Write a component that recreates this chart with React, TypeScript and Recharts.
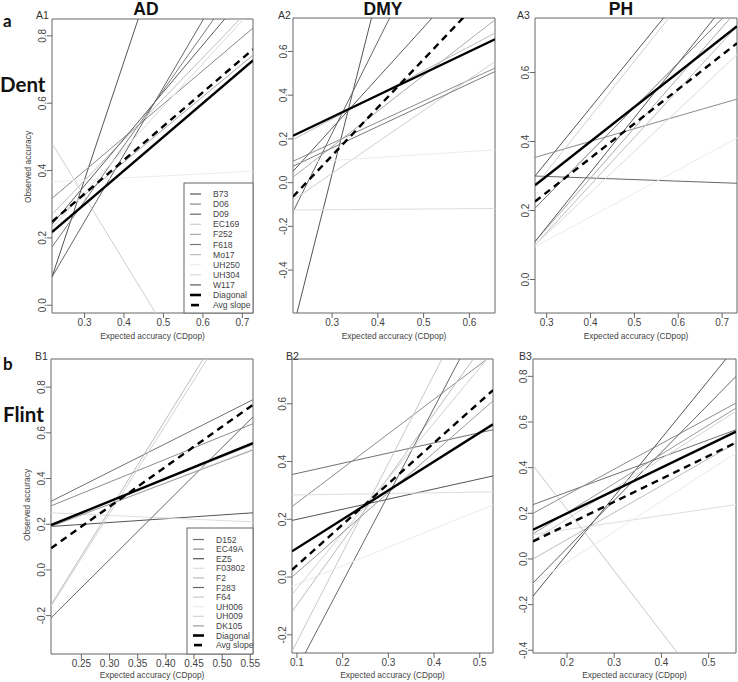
import React from 'react';
import { LineChart, Line, XAxis, YAxis, ReferenceArea } from 'recharts';

// ---------- names & colours ----------
const DENT_NAMES = ['B73', 'D06', 'D09', 'EC169', 'F252', 'F618', 'Mo17', 'UH250', 'UH304', 'W117'];
const DENT_COLORS = ['#555555', '#8a8a8a', '#666666', '#cfcfcf', '#ababab', '#7a7a7a', '#bdbdbd', '#ececec', '#dcdcdc', '#5a5a5a'];
const FLINT_NAMES = ['D152', 'EC49A', 'EZ5', 'F03802', 'F2', 'F283', 'F64', 'UH006', 'UH009', 'DK105'];
const FLINT_COLORS = ['#707070', '#8c8c8c', '#555555', '#dddddd', '#bcbcbc', '#666666', '#c8c8c8', '#eaeaea', '#d2d2d2', '#9a9a9a'];

// ---------- A1 (Dent, AD) ----------
const A1_X = [0.2175, 0.727];
const A1_START = [0.084, 0.3175, 0.084, 0.481, 0.248, 0.173, 0.27, 0.367, 0.23, 0.24];
const A1_END = [1.87, 0.823, 1.10, -0.497, 0.743, 1.014, 0.89, 0.398, 0.88, 0.95];
const A1_DIAG = [0.2175, 0.727];
const A1_AVG = [0.248, 0.76];
const A1_XTICKS = [0.3, 0.4, 0.5, 0.6, 0.7];
const A1_YTICKS = [0, 0.2, 0.4, 0.6, 0.8];

// ---------- A2 (Dent, DMY) ----------
const A2_X = [0.2146, 0.656];
const A2_START = [-0.668, 0.098, -0.133, -0.08, 0.025, 0.075, 0.197, 0.09, -0.125, 0.052];
const A2_END = [2.99, 0.524, 1.72, 0.554, 0.745, 0.508, 0.684, 0.15, -0.118, 1.07];
const A2_DIAG = [0.2146, 0.656];
const A2_AVG = [-0.064, 0.907];
const A2_XTICKS = [0.3, 0.4, 0.5, 0.6];
const A2_YTICKS = [-0.4, -0.2, 0, 0.2, 0.4, 0.6];

// ---------- A3 (Dent, PH) ----------
const A3_X = [0.2733, 0.734];
const A3_START = [0.30, 0.354, 0.30, 0.27, 0.11, 0.207, 0.10, 0.095, 0.10, 0.11];
const A3_END = [1.02, 0.523, 0.279, 1.007, 0.78, 0.80, 0.734, 0.41, 0.652, 0.84];
const A3_DIAG = [0.2733, 0.734];
const A3_AVG = [0.226, 0.685];
const A3_XTICKS = [0.3, 0.4, 0.5, 0.6, 0.7];
const A3_YTICKS = [0, 0.2, 0.4, 0.6];

// ---------- B1 (Flint, AD) ----------
const B1_X = [0.196, 0.5548];
const B1_START = [0.30, 0.28, 0.19, 0.25, -0.153, -0.21, 0.20, 0.19, -0.16, 0.19];
const B1_END = [0.745, 0.64, 0.25, 0.21, 1.275, 0.67, 0.547, 0.53, 1.24, 0.525];
const B1_DIAG = [0.196, 0.5548];
const B1_AVG = [0.095, 0.723];
const B1_XTICKS = [0.25, 0.3, 0.35, 0.4, 0.45, 0.5, 0.55];
const B1_YTICKS = [-0.2, 0, 0.2, 0.4, 0.6, 0.8];

// ---------- B2 (Flint, DMY) ----------
const B2_X = [0.0891, 0.529];
const B2_START = [0.355, 0.244, 0.196, 0.284, -0.12, -0.35, -0.257, -0.032, -0.06, 0.0];
const B2_END = [0.51, 0.77, 0.35, 0.295, 0.85, 0.974, 1.10, 0.25, 0.78, 0.61];
const B2_DIAG = [0.0891, 0.529];
const B2_AVG = [0.025, 0.647];
const B2_XTICKS = [0.1, 0.2, 0.3, 0.4, 0.5];
const B2_YTICKS = [-0.2, 0, 0.2, 0.4, 0.6];

// ---------- B3 (Flint, PH) ----------
const B3_X = [0.1279, 0.558];
const B3_START = [0.238, 0.20, -0.163, 0.107, 0.0, -0.105, 0.41, -0.11, 0.08, 0.11];
const B3_END = [0.566, 0.683, 0.93, 0.238, 0.508, 0.80, -0.744, 0.464, 0.647, 0.661];
const B3_DIAG = [0.1279, 0.558];
const B3_AVG = [0.077, 0.51];
const B3_XTICKS = [0.2, 0.3, 0.4, 0.5];
const B3_YTICKS = [-0.4, -0.2, 0, 0.2, 0.4, 0.6, 0.8];

const FONT = '"Liberation Sans", Arial, Helvetica, sans-serif';
const BOLD = 'Lato, "Open Sans", "Liberation Sans", sans-serif';
const AXIS_GRAY = '#666666';
const TEXT_GRAY = '#444444';

type PanelProps = {
  box: { l: number; t: number; r: number; b: number };
  xDomain: number[];
  yDomain: number[];
  xTicks: number[];
  yTicks: number[];
  xDigits: number;
  x: number[];
  starts: number[];
  ends: number[];
  diag: number[];
  avg: number[];
  names: string[];
  colors: string[];
};

const YTick = (props: any) => {
  const { x, y, payload } = props;
  return (
    <text
      x={x}
      y={y}
      transform={`rotate(-90 ${x} ${y})`}
      textAnchor="middle"
      fontSize={10}
      fill={TEXT_GRAY}
      fontFamily={FONT}
    >
      {Number(payload.value).toFixed(1)}
    </text>
  );
};

function Panel(p: PanelProps) {
  const ML = 50;
  const MT = 5;
  const MR = 16;
  const XH = 30;
  const bw = p.box.r - p.box.l;
  const bh = p.box.b - p.box.t;
  const data = [0, 1].map((k) => {
    const row: Record<string, number> = { x: p.x[k], diag: p.diag[k], avg: p.avg[k] };
    p.names.forEach((n, i) => {
      row[n] = k === 0 ? p.starts[i] : p.ends[i];
    });
    return row;
  });
  return (
    <div style={{ position: 'absolute', left: p.box.l - ML, top: p.box.t - MT }}>
      <LineChart
        width={bw + ML + MR}
        height={bh + MT + XH}
        data={data}
        margin={{ top: MT, right: MR, left: 0, bottom: 0 }}
      >
        <XAxis
          type="number"
          dataKey="x"
          domain={p.xDomain}
          allowDataOverflow
          ticks={p.xTicks}
          interval={0}
          tickFormatter={(v: number) => v.toFixed(p.xDigits)}
          tick={{ fontSize: 10, fill: TEXT_GRAY, fontFamily: FONT }}
          tickSize={5}
          tickMargin={1}
          axisLine={false}
          tickLine={{ stroke: AXIS_GRAY }}
          height={XH}
        />
        <YAxis
          type="number"
          domain={p.yDomain}
          allowDataOverflow
          ticks={p.yTicks}
          interval={0}
          tick={<YTick />}
          tickSize={5}
          tickMargin={1}
          axisLine={false}
          tickLine={{ stroke: AXIS_GRAY }}
          width={ML}
        />
        {p.names.map((n, i) => (
          <Line
            key={n}
            type="linear"
            dataKey={n}
            stroke={p.colors[i]}
            strokeWidth={1}
            dot={false}
            activeDot={false}
            isAnimationActive={false}
          />
        ))}
        <Line type="linear" dataKey="diag" stroke="#000" strokeWidth={2.4} dot={false} activeDot={false} isAnimationActive={false} />
        <Line type="linear" dataKey="avg" stroke="#000" strokeWidth={2.4} strokeDasharray="7 5" dot={false} activeDot={false} isAnimationActive={false} />
        <ReferenceArea
          x1={p.xDomain[0]}
          x2={p.xDomain[1]}
          y1={p.yDomain[0]}
          y2={p.yDomain[1]}
          fill="none"
          fillOpacity={0}
          stroke={AXIS_GRAY}
          strokeWidth={1}
        />
      </LineChart>
    </div>
  );
}

function LegendBox({ l, t, w, h, y0, step, names, colors }: any) {
  const items = [...names.map((n: string, i: number) => ({ n, c: colors[i], kind: 'v' })), { n: 'Diagonal', c: '#000', kind: 'd' }, { n: 'Avg slope', c: '#000', kind: 'a' }];
  return (
    <g>
      <rect x={l} y={t} width={w} height={h} fill="#fff" stroke={AXIS_GRAY} strokeWidth={1} />
      {items.map((it: any, i: number) => {
        const y = y0 + i * step;
        return (
          <g key={it.n}>
            {it.kind === 'v' && <line x1={l + 6} x2={l + 17} y1={y} y2={y} stroke={it.c} strokeWidth={1.2} />}
            {it.kind === 'd' && <line x1={l + 6} x2={l + 17} y1={y} y2={y} stroke="#000" strokeWidth={2.6} />}
            {it.kind === 'a' && <line x1={l + 7} x2={l + 15} y1={y} y2={y} stroke="#000" strokeWidth={2.6} />}
            <text x={l + 29} y={y} dominantBaseline="central" fontSize={8.6} fill={TEXT_GRAY} fontFamily={FONT}>
              {it.n}
            </text>
          </g>
        );
      })}
    </g>
  );
}

export default function App() {
  const A1B = { l: 52, t: 19, r: 253, b: 313 };
  const A2B = { l: 293, t: 18, r: 495, b: 313 };
  const A3B = { l: 535, t: 18, r: 737, b: 313 };
  const B1B = { l: 51, t: 359, r: 253, b: 654 };
  const B2B = { l: 292, t: 359, r: 493, b: 653 };
  const B3B = { l: 533, t: 359, r: 736, b: 653 };

  const common = { names: DENT_NAMES, colors: DENT_COLORS };
  const commonB = { names: FLINT_NAMES, colors: FLINT_COLORS };

  const xlab = (b: any, y: number) => (
    <text x={(b.l + b.r) / 2} y={y} textAnchor="middle" fontSize={8.4} fill={TEXT_GRAY} fontFamily={FONT}>
      Expected accuracy (CDpop)
    </text>
  );

  return (
    <div style={{ position: 'absolute', left: 0, top: 0, width: 738, height: 682, background: '#fff', overflow: 'hidden' }}>
      <Panel box={A1B} xDomain={[0.2175, 0.727]} yDomain={[-0.023, 0.85]} xTicks={A1_XTICKS} yTicks={A1_YTICKS} xDigits={1}
        x={A1_X} starts={A1_START} ends={A1_END} diag={A1_DIAG} avg={A1_AVG} {...common} />
      <Panel box={A2B} xDomain={[0.2146, 0.656]} yDomain={[-0.596, 0.753]} xTicks={A2_XTICKS} yTicks={A2_YTICKS} xDigits={1}
        x={A2_X} starts={A2_START} ends={A2_END} diag={A2_DIAG} avg={A2_AVG} {...common} />
      <Panel box={A3B} xDomain={[0.2733, 0.734]} yDomain={[-0.097, 0.758]} xTicks={A3_XTICKS} yTicks={A3_YTICKS} xDigits={1}
        x={A3_X} starts={A3_START} ends={A3_END} diag={A3_DIAG} avg={A3_AVG} {...common} />
      <Panel box={B1B} xDomain={[0.196, 0.5548]} yDomain={[-0.368, 0.923]} xTicks={B1_XTICKS} yTicks={B1_YTICKS} xDigits={2}
        x={B1_X} starts={B1_START} ends={B1_END} diag={B1_DIAG} avg={B1_AVG} {...commonB} />
      <Panel box={B2B} xDomain={[0.0891, 0.529]} yDomain={[-0.263, 0.755]} xTicks={B2_XTICKS} yTicks={B2_YTICKS} xDigits={1}
        x={B2_X} starts={B2_START} ends={B2_END} diag={B2_DIAG} avg={B2_AVG} {...commonB} />
      <Panel box={B3B} xDomain={[0.1279, 0.558]} yDomain={[-0.412, 0.876]} xTicks={B3_XTICKS} yTicks={B3_YTICKS} xDigits={1}
        x={B3_X} starts={B3_START} ends={B3_END} diag={B3_DIAG} avg={B3_AVG} {...commonB} />

      <svg width={738} height={682} style={{ position: 'absolute', left: 0, top: 0, pointerEvents: 'none' }}>
        {/* column titles */}
        <text x={146} y={15} textAnchor="middle" fontSize={17.5} fontWeight="bold" fill="#111" fontFamily={FONT}>AD</text>
        <text x={383} y={15} textAnchor="middle" fontSize={17.5} fontWeight="bold" fill="#111" fontFamily={FONT}>DMY</text>
        <text x={621} y={15} textAnchor="middle" fontSize={17.5} fontWeight="bold" fill="#111" fontFamily={FONT}>PH</text>

        {/* row labels */}
        <text x={3} y={27} fontSize={17} fontWeight="bold" fill="#111" fontFamily={BOLD}>a</text>
        <text x={3} y={370} fontSize={17} fontWeight="bold" fill="#111" fontFamily={BOLD}>b</text>
        <text x={0} y={92} fontSize={20.5} fontWeight="bold" fill="#111" fontFamily={BOLD}>Dent</text>
        <text x={3} y={422} fontSize={20.5} fontWeight="bold" fill="#111" fontFamily={BOLD}>Flint</text>

        {/* panel tags */}
        <text x={36} y={19} fontSize={10.5} fill="#333" fontFamily={FONT}>A1</text>
        <text x={278} y={19} fontSize={10.5} fill="#333" fontFamily={FONT}>A2</text>
        <text x={517} y={19} fontSize={10.5} fill="#333" fontFamily={FONT}>A3</text>
        <text x={35} y={360} fontSize={10.5} fill="#333" fontFamily={FONT}>B1</text>
        <text x={286} y={360} fontSize={10.5} fill="#333" fontFamily={FONT}>B2</text>
        <text x={519} y={360} fontSize={10.5} fill="#333" fontFamily={FONT}>B3</text>

        {/* axis titles */}
        {xlab(A1B, 339)}
        {xlab(A2B, 339)}
        {xlab(A3B, 339)}
        {xlab(B1B, 678)}
        {xlab(B2B, 678)}
        {xlab(B3B, 678)}
        <text x={31} y={167} transform="rotate(-90 31 167)" textAnchor="middle" fontSize={8.4} fill={TEXT_GRAY} fontFamily={FONT}>Observed accuracy</text>
        <text x={30} y={505} transform="rotate(-90 30 505)" textAnchor="middle" fontSize={8.4} fill={TEXT_GRAY} fontFamily={FONT}>Observed accuracy</text>

        {/* legends */}
        <LegendBox l={184} t={183} w={69} h={130} y0={194} step={10.1} names={DENT_NAMES} colors={DENT_COLORS} />
        <LegendBox l={187} t={528} w={66} h={126} y0={539.5} step={9.6} names={FLINT_NAMES} colors={FLINT_COLORS} />
      </svg>
    </div>
  );
}
